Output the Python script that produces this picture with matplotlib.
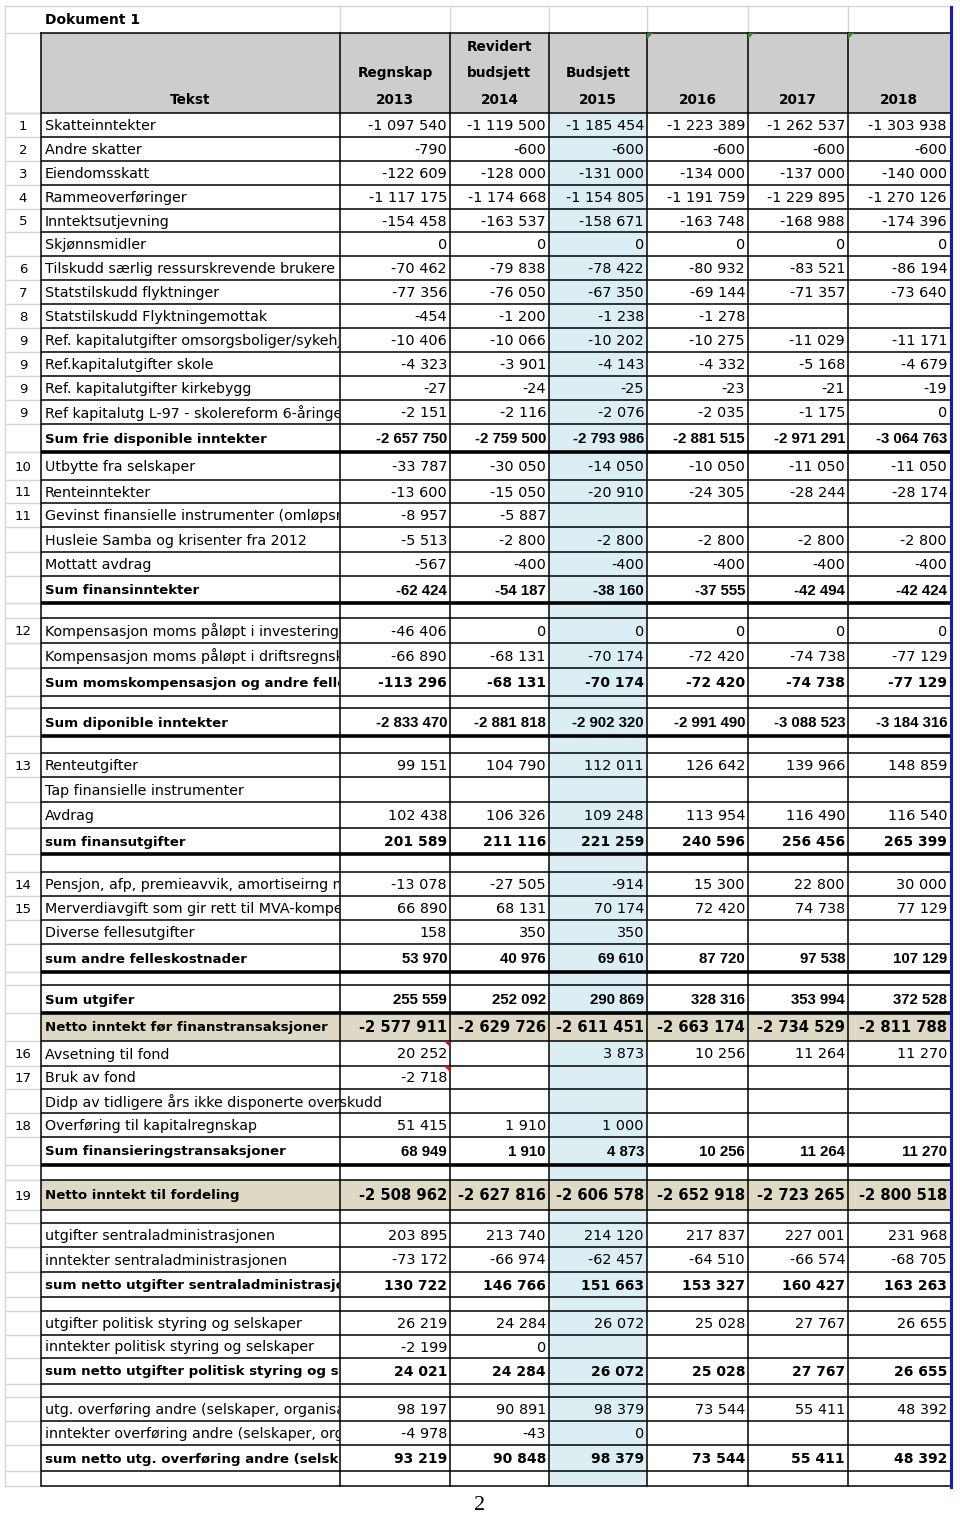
import matplotlib
matplotlib.use("Agg")
import matplotlib.pyplot as plt
from matplotlib.patches import Rectangle, Polygon

# ---------------- data ----------------
title = "Dokument 1"
header_lines = {
    "Tekst": ["", "", "Tekst"],
    "2013": ["", "Regnskap", "2013"],
    "2014": ["Revidert", "budsjett", "2014"],
    "2015": ["", "Budsjett", "2015"],
    "2016": ["", "", "2016"],
    "2017": ["", "", "2017"],
    "2018": ["", "", "2018"],
}

row_numbers = ["1", "2", "3", "4", "5", "", "6", "7", "8", "9", "9", "9", "9", "",
               "10", "11", "11", "", "", "", "",
               "12", "", "", "", "", "",
               "13", "", "", "", "",
               "14", "15", "", "", "",
               "", "", "16", "17", "", "18", "", "", "19", "",
               "", "", "", "", "", "", "", "", "", "", "", ""]

labels = [
    "Skatteinntekter", "Andre skatter", "Eiendomsskatt", "Rammeoverføringer",
    "Inntektsutjevning", "Skjønnsmidler", "Tilskudd særlig ressurskrevende brukere",
    "Statstilskudd flyktninger", "Statstilskudd Flyktningemottak",
    "Ref. kapitalutgifter omsorgsboliger/sykehjem", "Ref.kapitalutgifter skole",
    "Ref. kapitalutgifter kirkebygg", "Ref kapitalutg L-97 - skolereform 6-åringer",
    "Sum frie disponible inntekter",
    "Utbytte fra selskaper", "Renteinntekter",
    "Gevinst finansielle instrumenter (omløpsmidler)",
    "Husleie Samba og krisenter fra 2012", "Mottatt avdrag", "Sum finansinntekter",
    "",
    "Kompensasjon moms påløpt i investeringsregnskapet",
    "Kompensasjon moms påløpt i driftsregnskapet",
    "Sum momskompensasjon og andre fellesinntekter",
    "",
    "Sum diponible inntekter",
    "",
    "Renteutgifter", "Tap finansielle instrumenter", "Avdrag", "sum finansutgifter",
    "",
    "Pensjon, afp, premieavvik, amortiseirng m.m.",
    "Merverdiavgift som gir rett til MVA-kompensasjon",
    "Diverse fellesutgifter", "sum andre felleskostnader",
    "",
    "Sum utgifer", "Netto inntekt før finanstransaksjoner",
    "Avsetning til fond", "Bruk av fond",
    "Didp av tidligere års ikke disponerte overskudd",
    "Overføring til kapitalregnskap", "Sum finansieringstransaksjoner",
    "",
    "Netto inntekt til fordeling",
    "",
    "utgifter sentraladministrasjonen", "inntekter sentraladministrasjonen",
    "sum netto utgifter sentraladministrasjonen",
    "",
    "utgifter politisk styring og selskaper", "inntekter politisk styring og selskaper",
    "sum netto utgifter politisk styring og selskaper",
    "",
    "utg. overføring andre (selskaper, organisasjoner)",
    "inntekter overføring andre (selskaper, organisasjoner)",
    "sum netto utg. overføring andre (selskaper, organisasjoner)",
    "",
]

N = None
regnskap_2013 = [-1097540, -790, -122609, -1117175, -154458, 0, -70462, -77356, -454,
                 -10406, -4323, -27, -2151, -2657750,
                 -33787, -13600, -8957, -5513, -567, -62424, N,
                 -46406, -66890, -113296, N, -2833470, N,
                 99151, N, 102438, 201589, N,
                 -13078, 66890, 158, 53970, N,
                 255559, -2577911, 20252, -2718, N, 51415, 68949, N, -2508962, N,
                 203895, -73172, 130722, N, 26219, -2199, 24021, N, 98197, -4978, 93219, N]
revidert_2014 = [-1119500, -600, -128000, -1174668, -163537, 0, -79838, -76050, -1200,
                 -10066, -3901, -24, -2116, -2759500,
                 -30050, -15050, -5887, -2800, -400, -54187, N,
                 0, -68131, -68131, N, -2881818, N,
                 104790, N, 106326, 211116, N,
                 -27505, 68131, 350, 40976, N,
                 252092, -2629726, N, N, N, 1910, 1910, N, -2627816, N,
                 213740, -66974, 146766, N, 24284, 0, 24284, N, 90891, -43, 90848, N]
budsjett_2015 = [-1185454, -600, -131000, -1154805, -158671, 0, -78422, -67350, -1238,
                 -10202, -4143, -25, -2076, -2793986,
                 -14050, -20910, N, -2800, -400, -38160, N,
                 0, -70174, -70174, N, -2902320, N,
                 112011, N, 109248, 221259, N,
                 -914, 70174, 350, 69610, N,
                 290869, -2611451, 3873, N, N, 1000, 4873, N, -2606578, N,
                 214120, -62457, 151663, N, 26072, N, 26072, N, 98379, 0, 98379, N]
plan_2016 = [-1223389, -600, -134000, -1191759, -163748, 0, -80932, -69144, -1278,
             -10275, -4332, -23, -2035, -2881515,
             -10050, -24305, N, -2800, -400, -37555, N,
             0, -72420, -72420, N, -2991490, N,
             126642, N, 113954, 240596, N,
             15300, 72420, N, 87720, N,
             328316, -2663174, 10256, N, N, N, 10256, N, -2652918, N,
             217837, -64510, 153327, N, 25028, N, 25028, N, 73544, N, 73544, N]
plan_2017 = [-1262537, -600, -137000, -1229895, -168988, 0, -83521, -71357, N,
             -11029, -5168, -21, -1175, -2971291,
             -11050, -28244, N, -2800, -400, -42494, N,
             0, -74738, -74738, N, -3088523, N,
             139966, N, 116490, 256456, N,
             22800, 74738, N, 97538, N,
             353994, -2734529, 11264, N, N, N, 11264, N, -2723265, N,
             227001, -66574, 160427, N, 27767, N, 27767, N, 55411, N, 55411, N]
plan_2018 = [-1303938, -600, -140000, -1270126, -174396, 0, -86194, -73640, N,
             -11171, -4679, -19, 0, -3064763,
             -11050, -28174, N, -2800, -400, -42424, N,
             0, -77129, -77129, N, -3184316, N,
             148859, N, 116540, 265399, N,
             30000, 77129, N, 107129, N,
             372528, -2811788, 11270, N, N, N, 11270, N, -2800518, N,
             231968, -68705, 163263, N, 26655, N, 26655, N, 48392, N, 48392, N]

# row style: n normal, sa sum (arial-bold numbers), sw sum (wide bold), net beige, e empty
row_kind = ["n"] * 13 + ["sa"] + ["n"] * 5 + ["sa", "e"] + ["n", "n", "sw", "e", "sa", "e"] + \
           ["n", "n", "n", "sw", "e"] + ["n", "n", "n", "sa", "e"] + \
           ["sa", "net", "n", "n", "n", "n", "sa", "e", "net", "e"] + \
           ["n", "n", "sw", "e", "n", "n", "sw", "e", "n", "n", "sw", "e"]

# ---------------- layout ----------------
row_heights = [24, 24, 24, 24, 23, 24, 24, 24, 24, 24, 24, 24, 24, 28,
               28, 23, 24, 25, 24, 27, 15,
               25, 25, 28, 12, 28, 17,
               24, 25, 26, 26, 18,
               24, 24, 24, 28, 13,
               28, 28, 25, 23, 24, 24, 28, 15, 30, 13,
               24, 25, 25, 14, 24, 23, 26, 13, 24, 24, 26, 15]
thick_after = {13, 19, 25, 30, 35, 37, 43}
col_edges = [41, 340, 450, 549, 647, 748, 848, 950]
table_top, header_bottom, sheet_top = 33, 113, 6
left_grid = 5

HEADER_GRAY = "#cdcdcd"
BEIGE = "#ddd9c4"
BLUE = "#daeef3"
GRID = "#d6d6d6"
LW = 1.1
LW_THICK = 2.6

fig = plt.figure(figsize=(9.6, 15.17), dpi=100)
ax = fig.add_axes([0, 0, 1, 1])
ax.set_xlim(0, 960)
ax.set_ylim(1517, 0)
ax.axis("off")

# row boundaries
bounds = [header_bottom]
for h in row_heights:
    bounds.append(bounds[-1] + h)
table_bottom = bounds[-1]

# fills
ax.add_patch(Rectangle((col_edges[0], table_top), col_edges[-1] - col_edges[0],
                       header_bottom - table_top, color=HEADER_GRAY, lw=0, zorder=0))
ax.add_patch(Rectangle((col_edges[3], header_bottom), col_edges[4] - col_edges[3],
                       table_bottom - header_bottom, color=BLUE, lw=0, zorder=0))
for i, k in enumerate(row_kind):
    if k == "net":
        ax.add_patch(Rectangle((col_edges[0], bounds[i]), col_edges[-1] - col_edges[0],
                               bounds[i + 1] - bounds[i], color=BEIGE, lw=0, zorder=0.5))

# light spreadsheet grid (row-number column and title row)
ax.plot([left_grid, col_edges[-1]], [sheet_top, sheet_top], color=GRID, lw=1, zorder=1)
ax.plot([left_grid, left_grid], [sheet_top, table_bottom], color=GRID, lw=1, zorder=1)
for y in [table_top, header_bottom] + bounds:
    ax.plot([left_grid, col_edges[0]], [y, y], color=GRID, lw=1, zorder=1)
for x in col_edges[1:-1]:
    ax.plot([x, x], [sheet_top, table_top], color=GRID, lw=1, zorder=1)

# black table borders
ax.plot([col_edges[0], col_edges[-1]], [table_top, table_top], color="black", lw=LW, zorder=3)
for i, y in enumerate(bounds):
    lw = LW_THICK if (i - 1) in thick_after else LW
    ax.plot([col_edges[0], col_edges[-1]], [y, y], color="black", lw=lw, zorder=3,
            solid_capstyle="butt")
for x in col_edges[:-1]:
    ax.plot([x, x], [table_top, table_bottom], color="black", lw=LW, zorder=3)
ax.plot([col_edges[-1] + 0.5] * 2, [sheet_top + 1, table_bottom + 1], color="#1c1ca8",
        lw=2.2, zorder=4)

# triangles
for x in col_edges[4:7]:
    ax.add_patch(Polygon([[x, table_top], [x + 6, table_top], [x, table_top + 6]],
                         closed=True, color="#2e8b2e", lw=0, zorder=5))
for i in (39, 40):
    x = col_edges[2]
    ax.add_patch(Polygon([[x - 6, bounds[i]], [x, bounds[i]], [x, bounds[i] + 6]],
                         closed=True, color="#d01010", lw=0, zorder=5))

# text
ax.text(45, 20, title, fontsize=10, fontweight="bold", family="DejaVu Sans",
        va="center", ha="left")
hdr_y = [47, 73, 100]
hdr_keys = list(header_lines.keys())
for j, key in enumerate(hdr_keys):
    xc = (col_edges[j] + col_edges[j + 1]) / 2
    for line, y in zip(header_lines[key], hdr_y):
        if line:
            ax.text(xc, y, line, fontsize=9.8, fontweight="bold", family="DejaVu Sans",
                    ha="center", va="center")


def fmt(v):
    s = f"{abs(v):,}".replace(",", " ")
    return ("-" if v < 0 else "") + s


columns = [regnskap_2013, revidert_2014, budsjett_2015, plan_2016, plan_2017, plan_2018]

for i, (num, lab, kind) in enumerate(zip(row_numbers, labels, row_kind)):
    yc = (bounds[i] + bounds[i + 1]) / 2 + 1
    if num:
        ax.text(23, yc, num, fontsize=9.5, family="DejaVu Sans", ha="center", va="center")
    if lab:
        vals = [c[i] for c in columns]
        clip_right = col_edges[-1]
        for j, v in enumerate(vals):
            if v is not None:
                clip_right = col_edges[j + 1]
                break
        bold = kind in ("sa", "sw", "net")
        t = ax.text(45, yc, lab, fontsize=9.6 if bold else 10.3,
                    fontweight="bold" if bold else "normal",
                    family="DejaVu Sans", ha="left", va="center", zorder=6)
        clip = Rectangle((col_edges[0], bounds[i]), clip_right - col_edges[0] - 1,
                         bounds[i + 1] - bounds[i], transform=ax.transData)
        t.set_clip_path(clip)
        t.set_clip_on(True)
    for j, col in enumerate(columns):
        v = col[i]
        if v is None:
            continue
        xr = col_edges[j + 2] - 3
        if kind == "n":
            ax.text(xr, yc, fmt(v), fontsize=10.4, family="DejaVu Sans", ha="right",
                    va="center", zorder=6)
        elif kind == "sa":
            ax.text(xr, yc, fmt(v), fontsize=10.8, fontweight="bold",
                    family="Liberation Sans", ha="right", va="center", zorder=6)
        elif kind == "sw":
            ax.text(xr, yc, fmt(v), fontsize=10, fontweight="bold",
                    family="DejaVu Sans", ha="right", va="center", zorder=6)
        else:
            ax.text(xr, yc, fmt(v), fontsize=10.6, fontweight="bold",
                    family="DejaVu Sans", ha="right", va="center", zorder=6)

ax.text(480, 1506, "2", fontsize=16, family="Liberation Serif", ha="center", va="center")

fig.savefig("out.png", dpi=100, facecolor="white")
